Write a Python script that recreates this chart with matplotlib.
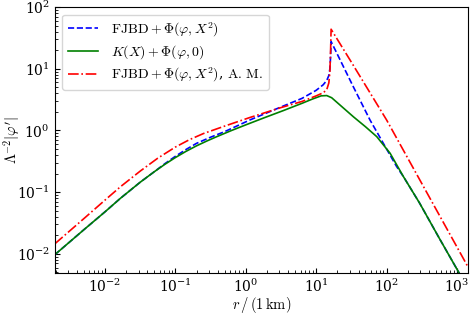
import matplotlib
matplotlib.use("Agg")
import matplotlib.pyplot as plt
import numpy as np

plt.rcParams['mathtext.fontset'] = 'cm'
plt.rcParams['font.family'] = 'serif'
plt.rcParams['font.serif'] = ['DejaVu Serif']
plt.rcParams['axes.formatter.use_mathtext'] = True

# log10(r / km) and log10(Lambda^-2 |phi'|)
logr_green = [-2.714, -2.3, -2.0, -1.78, -1.5, -1.3, -1.15, -1.0, -0.85, -0.7, -0.55, -0.41, -0.2,
              0.0, 0.25, 0.53, 0.8, 0.95, 1.07, 1.15, 1.22, 1.3, 1.53, 1.7, 1.86, 2.05, 2.24,
              2.47, 2.75, 3.02, 3.16]
logv_green = [-2.016, -1.61, -1.32, -1.10, -0.84, -0.67, -0.55, -0.44, -0.34, -0.25, -0.17, -0.10,
              0.0, 0.09, 0.20, 0.32, 0.44, 0.51, 0.56, 0.565, 0.53, 0.45, 0.22, 0.06, -0.10,
              -0.37, -0.75, -1.18, -1.75, -2.29, -2.57]

logr_blue = [-2.714, -2.3, -2.0, -1.78, -1.5, -1.3, -1.15, -1.0, -0.85, -0.7, -0.5, -0.3, 0.06,
             0.5, 0.8, 1.0, 1.1, 1.15, 1.18, 1.195, 1.205, 1.212, 1.527, 1.764, 2.143, 2.24,
             2.47, 2.75, 3.02, 3.16]
logv_blue = [-2.016, -1.61, -1.32, -1.10, -0.84, -0.67, -0.54, -0.42, -0.31, -0.21, -0.11, -0.02,
             0.17, 0.38, 0.52, 0.65, 0.74, 0.81, 0.89, 1.00, 1.20, 1.44, 0.709, 0.17, -0.586,
             -0.75, -1.18, -1.75, -2.29, -2.57]

logr_red = [-2.714, -2.3, -2.0, -1.777, -1.5, -1.25, -1.0, -0.8, -0.6, -0.3, 0.06, 0.5, 0.8,
            1.0, 1.1, 1.15, 1.18, 1.195, 1.205, 1.212, 1.5, 2.0, 2.5, 3.0, 3.16]
logv_red = [-1.84, -1.43, -1.13, -0.91, -0.66, -0.45, -0.27, -0.15, -0.05, 0.07, 0.21, 0.37,
            0.47, 0.56, 0.61, 0.66, 0.77, 0.95, 1.30, 1.64, 1.106, 0.17, -0.86, -1.89, -2.22]

labels = [r'$\mathrm{FJBD} + \Phi(\varphi, X^2)$',
          r'$K(X) + \Phi(\varphi, 0)$',
          r'$\mathrm{FJBD} + \Phi(\varphi, X^2)$, $\mathrm{A.\,M.}$']

fig = plt.figure(figsize=(4.71, 3.14), dpi=100)
ax = fig.add_axes([0.116, 0.1306, 0.8776, 0.8471])

ax.loglog(10 ** np.array(logr_blue), 10 ** np.array(logv_blue), '--', color='blue', lw=1.2, label=labels[0])
ax.loglog(10 ** np.array(logr_green), 10 ** np.array(logv_green), '-', color='green', lw=1.2, label=labels[1])
ax.loglog(10 ** np.array(logr_red), 10 ** np.array(logv_red), '-.', color='red', lw=1.2, label=labels[2])

ax.set_xlim(10 ** -2.714, 10 ** 3.156)
ax.set_ylim(10 ** -2.31, 1e2)
ax.tick_params(which='both', direction='in', top=False, right=False, labelsize=10)
ax.set_xlabel(r'$r\,/\,(1\,\mathrm{km})$', fontsize=10.5, labelpad=0)
ax.set_ylabel(r'$\Lambda^{-2}|\varphi^\prime|$', fontsize=10.5)
ax.yaxis.set_label_coords(-0.08, 0.5)
ax.legend(loc='upper left', fontsize=10, fancybox=True, framealpha=0.8,
          handlelength=2.2, handletextpad=0.9, labelspacing=0.35, borderaxespad=0.55)

fig.savefig('out.png', dpi=100)
